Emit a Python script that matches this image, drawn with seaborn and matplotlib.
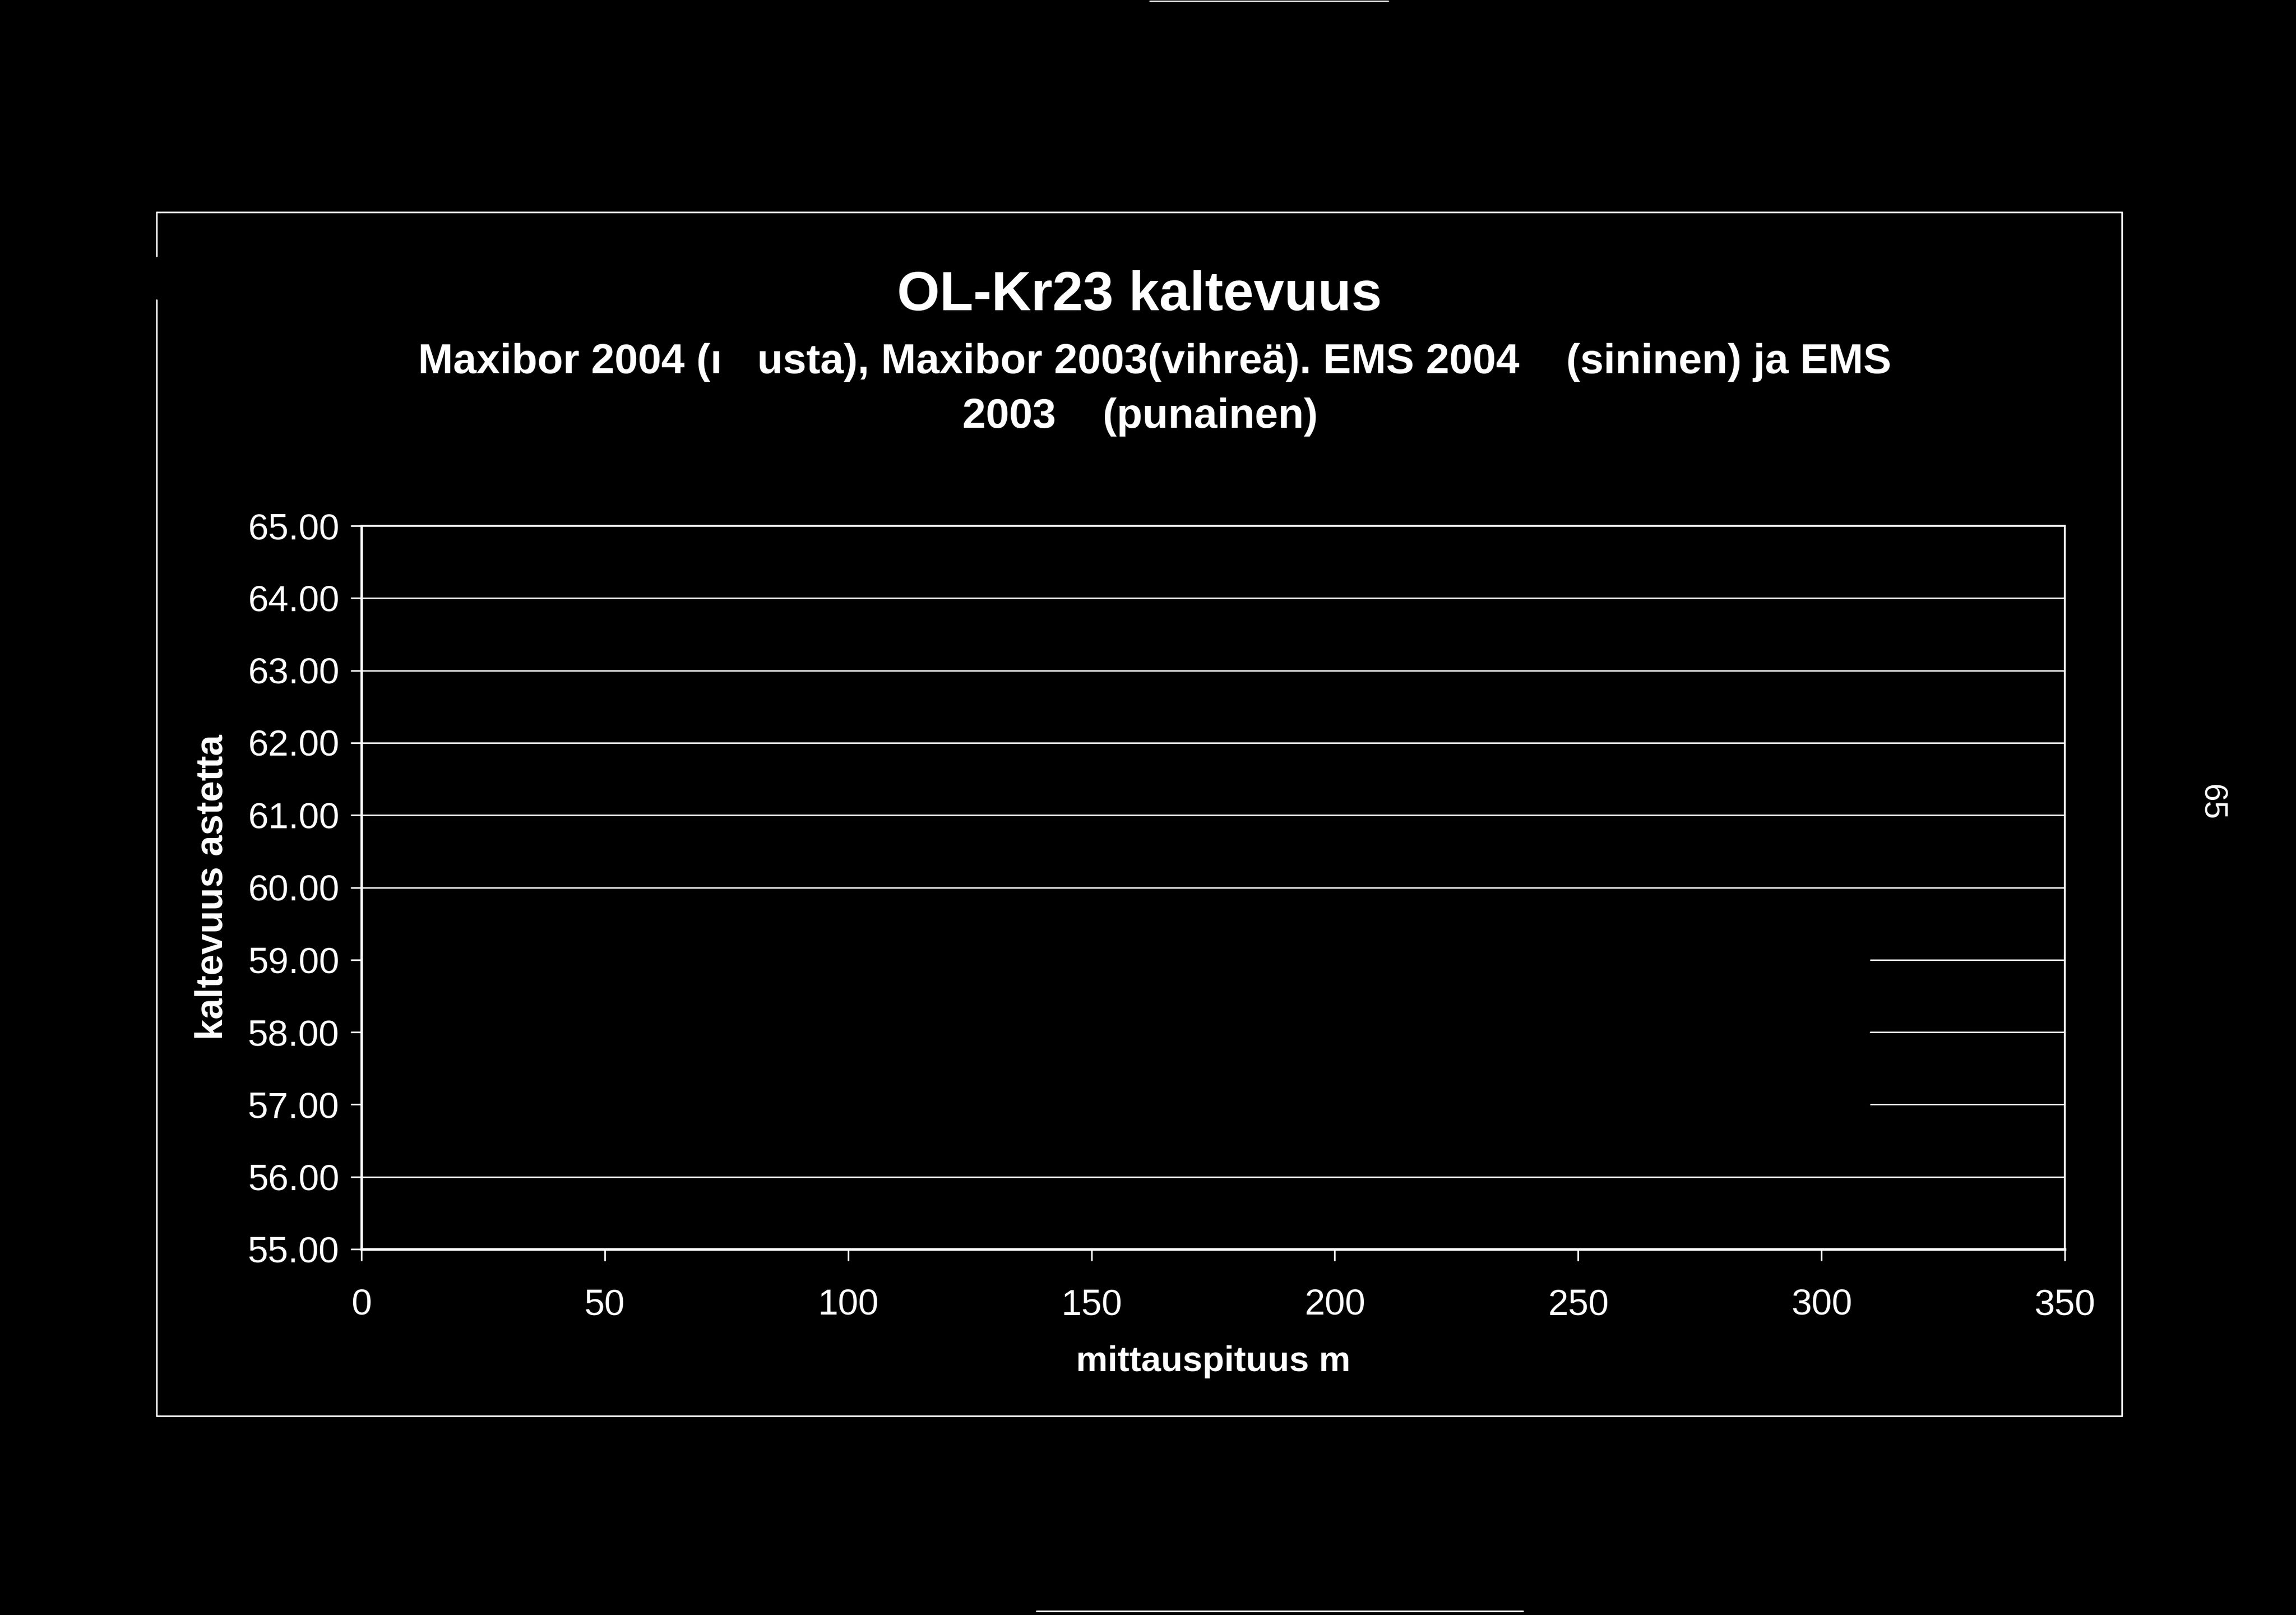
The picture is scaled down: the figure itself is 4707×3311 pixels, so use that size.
import matplotlib
matplotlib.use("Agg")
import matplotlib.pyplot as plt
from matplotlib.lines import Line2D
from matplotlib.ticker import FormatStrFormatter, MultipleLocator
import pandas as pd
import seaborn as sns

# mittauspituus (m) -- the curves are drawn in black on black, only their
# footprint over the 57/58/59 gridlines is visible in the scan
depth = [0, 20, 40, 60, 80, 100, 120, 140, 160, 180, 200, 220, 240, 260, 280, 300, 309]
maxibor_2004 = [59.03, 59.01, 58.99, 59.00, 59.02, 59.01, 58.98, 58.99, 59.01, 59.03, 59.02, 59.00, 58.98, 58.99, 59.01, 59.02, 59.00]
maxibor_2003 = [58.02, 58.00, 57.98, 57.99, 58.01, 58.03, 58.02, 58.00, 57.98, 57.97, 57.99, 58.01, 58.02, 58.00, 57.99, 58.01, 58.02]
ems_2004 = [57.01, 56.99, 57.00, 57.02, 57.03, 57.01, 56.99, 56.98, 57.00, 57.02, 57.01, 56.99, 57.00, 57.02, 57.03, 57.01, 57.00]
ems_2003 = [57.52, 57.50, 57.48, 57.49, 57.51, 57.53, 57.52, 57.50, 57.47, 57.48, 57.50, 57.52, 57.53, 57.51, 57.49, 57.50, 57.52]
series_names = ["Maxibor 2004", "Maxibor 2003", "EMS 2004", "EMS 2003"]

x_ticks = [0, 50, 100, 150, 200, 250, 300, 350]
y_min, y_max = 55, 65

title = "OL-Kr23 kaltevuus"
subtitle_1 = "Maxibor 2004 (ı   usta), Maxibor 2003(vihreä). EMS 2004    (sininen) ja EMS"
subtitle_2 = "2003    (punainen)"

frames = []
for name, vals in zip(series_names, [maxibor_2004, maxibor_2003, ems_2004, ems_2003]):
    frames.append(pd.DataFrame({"depth": depth, "kaltevuus": vals, "sarja": name}))
df = pd.concat(frames, ignore_index=True)

sns.set_theme(style="ticks")
plt.rcParams["font.family"] = ["Liberation Sans", "DejaVu Sans"]

W, H = 4707, 3311
fig = plt.figure(figsize=(W / 300, H / 300), dpi=300, facecolor="black")
ax = fig.add_axes([741 / W, 1 - 2561 / H, (4233 - 741) / W, (2561 - 1078) / H])
ax.set_facecolor("black")

ax.yaxis.set_major_locator(MultipleLocator(1))
ax.grid(axis="y", color="white", linewidth=0.7)
ax.set_axisbelow(True)

sns.lineplot(data=df, x="depth", y="kaltevuus", hue="sarja",
             palette=["black"] * 4, linewidth=5, legend=False, ax=ax, zorder=3)

ax.set_xlim(0, 350)
ax.set_ylim(y_min, y_max)
ax.set_xticks(x_ticks)
ax.yaxis.set_major_formatter(FormatStrFormatter("%.2f"))

for side in ["left", "right", "top", "bottom"]:
    ax.spines[side].set_color("white")
    ax.spines[side].set_linewidth(0.9)
    ax.spines[side].set_zorder(4)
ax.spines["bottom"].set_linewidth(1.3)
ax.spines["left"].set_linewidth(1.2)

ax.tick_params(axis="y", direction="out", length=5.3, width=0.8, color="white",
               labelcolor="white", labelsize=18, pad=5.5)
ax.tick_params(axis="x", direction="out", length=5.8, width=0.8, color="white",
               labelcolor="white", labelsize=18, pad=13.5)

ax.set_xlabel("mittauspituus m", color="white", fontsize=17.5, fontweight="bold")
ax.xaxis.set_label_coords(0.5, -0.133)
ax.set_ylabel("kaltevuus astetta", color="white", fontsize=18.5, fontweight="bold")
ax.yaxis.set_label_coords(-0.077, 0.5)

fig.text(2336 / W, 1 - 636 / H, title, color="white", fontsize=27,
         fontweight="bold", ha="center", va="baseline")
fig.text(2367 / W, 1 - 765 / H, subtitle_1, color="white", fontsize=20.7,
         fontweight="bold", ha="center", va="baseline")
fig.text(2337 / W, 1 - 877 / H, subtitle_2, color="white", fontsize=20.7,
         fontweight="bold", ha="center", va="baseline")

# page number printed sideways in the margin
fig.text(4533 / W, 1 - 1645 / H, "65", color="white", fontsize=16,
         rotation=-90, ha="center", va="center")

# chart frame (left edge broken near the top in the scan)
def fline(x0, y0, x1, y1, lw=0.8):
    fig.add_artist(Line2D([x0 / W, x1 / W], [1 - y0 / H, 1 - y1 / H],
                          color="white", linewidth=lw, transform=fig.transFigure))

fline(321, 435, 4350, 435)
fline(4350, 435, 4350, 2903)
fline(321, 2903, 4350, 2903)
fline(321, 435, 321, 525)
fline(321, 615, 321, 2903)

# scan edge marks
fline(2357, 2, 2846, 2, lw=0.6)
fline(2125, 3303, 3122, 3303, lw=0.8)

fig.savefig("out.png", dpi=300, facecolor="black")
